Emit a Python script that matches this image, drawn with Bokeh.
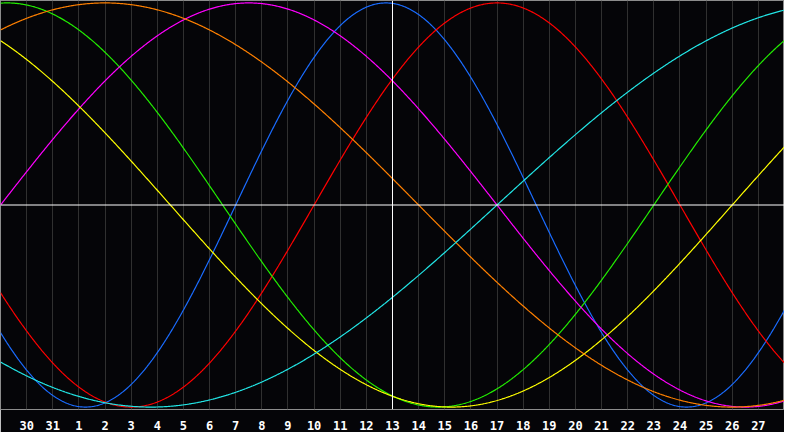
import numpy as np
from bokeh.plotting import figure
from bokeh.models import Range1d, FixedTicker, Span
from bokeh.embed import file_html
from bokeh.resources import INLINE

# ---- data ----
day_labels = ["30", "31"] + [str(i) for i in range(1, 28)]
day_offsets = list(range(-14, 15))          # day offset from the centre day ("13")
cycle_names = ["Physical", "Emotional", "Intellectual", "Intuitive",
               "Aesthetic", "Awareness", "Spiritual"]
cycle_periods = [23, 28, 33, 38, 43, 48, 53]
cycle_colors = ["#1a6cff", "#ff0000", "#22ee00", "#ff00ff",
                "#ffff00", "#ff8000", "#22e6e6"]
days_since_birth_at_centre = 21143

BG = "#050508"

p = figure(width=784, height=432, output_backend="svg", toolbar_location=None,
           x_range=Range1d(-15, 15), y_range=Range1d(-1.012, 1.012),
           min_border_left=0, min_border_right=0, min_border_top=0,
           min_border_bottom=0)
p.background_fill_color = BG
p.border_fill_color = BG
p.outline_line_color = "#8c8c8c"
p.outline_line_width = 1

p.yaxis.visible = False
p.ygrid.visible = False
p.xgrid.ticker = FixedTicker(ticks=[float(d) for d in day_offsets])
p.xgrid.grid_line_color = "#303030"
p.xgrid.grid_line_width = 1

ax = p.xaxis[0]
ax.ticker = FixedTicker(ticks=day_offsets)
ax.major_label_overrides = {d: lab for d, lab in zip(day_offsets, day_labels)}
ax.axis_line_color = None
ax.major_tick_line_color = None
ax.minor_tick_line_color = None
ax.major_label_text_color = "#ffffff"
ax.major_label_text_font = "DejaVu Sans Mono"
ax.major_label_text_font_style = "bold"
ax.major_label_text_font_size = "12px"
ax.major_label_standoff = 5

p.add_layout(Span(location=0, dimension="width", line_color="#ffffff", line_width=1))
p.add_layout(Span(location=0, dimension="height", line_color="#ffffff", line_width=1))

x = np.linspace(-15, 15, 901)
for name, period, color in zip(cycle_names, cycle_periods, cycle_colors):
    t = days_since_birth_at_centre + x
    y = np.sin(2 * np.pi * t / period)
    p.line(x, y, line_color=color, line_width=1.2)

open("out.html", "w").write(file_html(p, INLINE))
